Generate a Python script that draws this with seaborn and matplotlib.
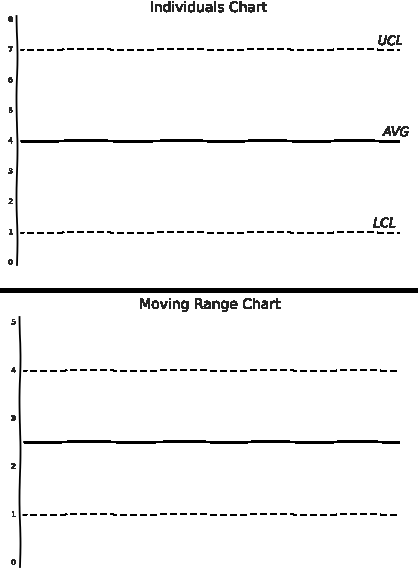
import pandas as pd
import matplotlib
matplotlib.use('Agg')
import matplotlib.pyplot as plt
from matplotlib.lines import Line2D
import seaborn as sns

# control limits for the two charts
ind_limits = ['UCL', 'AVG', 'LCL']
ind_values = [7, 4, 1]
mr_limits = ['UCL', 'AVG', 'LCL']
mr_values = [4, 2.5, 1]
ind_yticks = [0, 1, 2, 3, 4, 5, 6, 7, 8]
mr_yticks = [0, 1, 2, 3, 4, 5]
x_span = [0, 1]   # start / end of the charted samples


def limits_frame(names, values):
    rows = []
    for n, v in zip(names, values):
        for x in x_span:
            rows.append({'x': x, 'value': v, 'limit': n})
    return pd.DataFrame(rows)


sns.set_theme(style='white')
plt.xkcd(scale=0.5, length=100, randomness=2)
plt.rcParams['font.family'] = ['DejaVu Sans']
plt.rcParams['lines.antialiased'] = False
plt.rcParams['text.antialiased'] = False

fig = plt.figure(figsize=(4.18, 5.72), dpi=100)
ax1 = fig.add_axes([0.0407, 0.5367, 0.916, 0.4353])
ax2 = fig.add_axes([0.0478, 0.0087, 0.909, 0.437])

dash_map = {'UCL': (5, 2.5), 'AVG': '', 'LCL': (5, 2.5)}
size_map = {'UCL': 0.9, 'AVG': 1.3, 'LCL': 0.9}
black = {'UCL': 'black', 'AVG': 'black', 'LCL': 'black'}

for ax, names, vals, ticks, title, pad in [
        (ax1, ind_limits, ind_values, ind_yticks, 'Individuals Chart', 3),
        (ax2, mr_limits, mr_values, mr_yticks, 'Moving Range Chart', 6)]:
    df = limits_frame(names, vals)
    sns.lineplot(data=df, x='x', y='value', hue='limit', style='limit',
                 size='limit', palette=black, dashes=dash_map, sizes=size_map,
                 estimator=None, legend=False, ax=ax)
    ax.set_xlim(x_span[0], x_span[1])
    ax.set_ylim(ticks[0] - 0.1, ticks[-1] + 0.1)
    ax.set_yticks(ticks)
    ax.set_xticks([])
    ax.set_xlabel('')
    ax.set_ylabel('')
    ax.tick_params(axis='y', length=0, labelsize=5, pad=3)
    for s in ['top', 'right', 'bottom']:
        ax.spines[s].set_visible(False)
    ax.spines['left'].set_linewidth(1.3)
    ax.spines['left'].set_color('black')
    ax.set_title(title, fontsize=10, pad=pad)
    ax.patch.set_alpha(0)

# labels at the right end of the individuals chart
label_x = {'UCL': 0.975, 'AVG': 0.99, 'LCL': 0.96}
for n, v in zip(ind_limits, ind_values):
    ax1.text(label_x[n], v + 0.05, n, ha='center', va='bottom', fontsize=9,
             fontstyle='italic')

# separator between the two charts
sep = Line2D([0, 1], [0.493, 0.493], transform=fig.transFigure,
             color='black', linewidth=2.2)
sep.set_sketch_params(None)
fig.add_artist(sep)

fig.savefig('out.png', dpi=100)
